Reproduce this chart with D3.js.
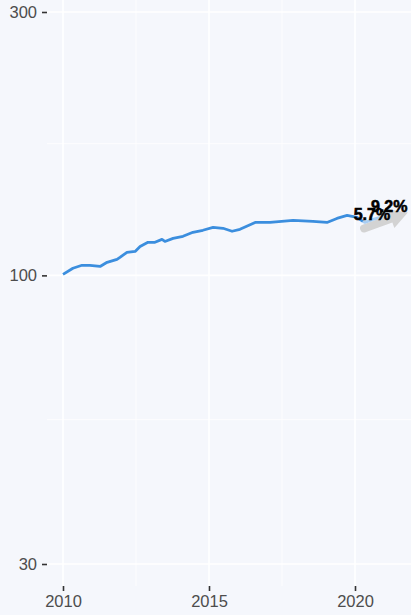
<!DOCTYPE html>
<html>
<head>
<meta charset="utf-8">
<script src="https://cdn.jsdelivr.net/npm/d3@7"></script>
<style>
  body { margin: 0; background: #f5f7fc; }
  svg { display: block; }
  text { font-family: "Liberation Sans", Arial, sans-serif; }
</style>
</head>
<body>
<div id="chart"></div>
<script>
// index values (log scale, 2010 = 100)
const years = [2010.0, 2010.34, 2010.65, 2010.92, 2011.27, 2011.51, 2011.85, 2011.95, 2012.19, 2012.47,
  2012.64, 2012.91, 2013.15, 2013.39, 2013.49, 2013.77, 2014.11, 2014.45, 2014.79, 2015.14,
  2015.48, 2015.79, 2016.06, 2016.58, 2017.09, 2017.88, 2018.56, 2019.04, 2019.38, 2019.73,
  2020.07, 2020.27];
const values = [100.4, 103.0, 104.3, 104.3, 103.8, 105.6, 106.9, 107.8, 110.1, 110.5,
  112.8, 114.8, 114.8, 116.2, 115.2, 116.7, 117.7, 119.7, 120.7, 122.2,
  121.7, 120.2, 121.2, 124.7, 124.7, 125.8, 125.3, 124.7, 126.8, 128.4,
  127.4, 125.3];

// latest months, lighter line
const recentYears = [2020.27, 2020.34, 2020.62, 2020.86];
const recentValues = [125.3, 124.7, 126.3, 127.4];

// projection arrow: start and end
const arrowYears = [2020.31, 2021.81];
const arrowValues = [121.6, 130.0];

// growth labels
const labelText = ["5.7%", "9.2%"];
const labelYears = [2020.58, 2021.17];
const labelValues = [129.0, 133.6];

const yTicks = [30, 100, 300];
const yMinor = [Math.sqrt(30 * 100), Math.sqrt(100 * 300)];
const xTicks = [2010, 2015, 2020];
const xMinor = [2012.5, 2017.5];

const width = 411, height = 615;
const panel = { left: 47, right: 411, top: 0, bottom: 586 };

const svg = d3.select('#chart')
    .append('svg')
    .attr('width', width)
    .attr('height', height);

const x = d3.scaleLinear().domain([2010, 2020]).range([63, 355]);
const y = d3.scaleLog().domain([30, 300]).range([564, 12]);

// panel
svg.append('rect')
    .attr('x', panel.left).attr('y', panel.top)
    .attr('width', panel.right - panel.left)
    .attr('height', panel.bottom - panel.top)
    .attr('fill', '#f5f7fc');

const grid = svg.append('g');
grid.selectAll('.vminor').data(xMinor).enter().append('line')
    .attr('x1', d => x(d)).attr('x2', d => x(d))
    .attr('y1', panel.top).attr('y2', panel.bottom)
    .attr('stroke', '#fff').attr('stroke-width', 0.8);
grid.selectAll('.hminor').data(yMinor).enter().append('line')
    .attr('x1', panel.left).attr('x2', panel.right)
    .attr('y1', d => y(d)).attr('y2', d => y(d))
    .attr('stroke', '#fff').attr('stroke-width', 0.8);
grid.selectAll('.vmajor').data(xTicks).enter().append('line')
    .attr('x1', d => x(d)).attr('x2', d => x(d))
    .attr('y1', panel.top).attr('y2', panel.bottom)
    .attr('stroke', '#fff').attr('stroke-width', 1.6);
grid.selectAll('.hmajor').data(yTicks).enter().append('line')
    .attr('x1', panel.left).attr('x2', panel.right)
    .attr('y1', d => y(d)).attr('y2', d => y(d))
    .attr('stroke', '#fff').attr('stroke-width', 1.6);

// axes
const yAxis = svg.append('g')
    .attr('transform', `translate(${panel.left},0)`)
    .call(d3.axisLeft(y).tickValues(yTicks).tickFormat(d3.format('d')).tickSize(5).tickPadding(5));
const xAxis = svg.append('g')
    .attr('transform', `translate(0,${panel.bottom})`)
    .call(d3.axisBottom(x).tickValues(xTicks).tickFormat(d3.format('d')).tickSize(5).tickPadding(4));
[yAxis, xAxis].forEach(a => {
    a.select('.domain').remove();
    a.selectAll('line').attr('stroke', '#333').attr('stroke-width', 1.6);
    a.selectAll('text').attr('fill', '#4d4d4d').attr('font-size', 16.5)
        .attr('font-family', '"Liberation Sans", Arial, sans-serif');
});

// projection arrow
const p0 = [x(arrowYears[0]), y(arrowValues[0])];
const p1 = [x(arrowYears[1]), y(arrowValues[1])];
const ang = Math.atan2(p1[1] - p0[1], p1[0] - p0[0]);
const headLen = 18, headW = 10;
const base = [p1[0] - headLen * Math.cos(ang), p1[1] - headLen * Math.sin(ang)];
svg.append('line')
    .attr('x1', p0[0]).attr('y1', p0[1])
    .attr('x2', base[0]).attr('y2', base[1])
    .attr('stroke', '#d3d3d3').attr('stroke-width', 8).attr('stroke-linecap', 'round');
svg.append('path')
    .attr('d', d3.line()([
        p1,
        [base[0] + headW * Math.sin(ang), base[1] - headW * Math.cos(ang)],
        [base[0] - headW * Math.sin(ang), base[1] + headW * Math.cos(ang)]
    ]) + 'Z')
    .attr('fill', '#d3d3d3');

const line = d3.line().x(d => x(d[0])).y(d => y(d[1]));

svg.append('path')
    .datum(recentYears.map((d, i) => [d, recentValues[i]]))
    .attr('d', line)
    .attr('fill', 'none')
    .attr('stroke', '#a9cdf2')
    .attr('stroke-width', 2.8)
    .attr('stroke-linejoin', 'round');

svg.append('path')
    .datum(years.map((d, i) => [d, values[i]]))
    .attr('d', line)
    .attr('fill', 'none')
    .attr('stroke', '#3b8ede')
    .attr('stroke-width', 2.8)
    .attr('stroke-linejoin', 'round');

svg.selectAll('.lab').data(labelText).enter().append('text')
    .attr('x', (d, i) => x(labelYears[i]))
    .attr('y', (d, i) => y(labelValues[i]))
    .attr('dy', '0.35em')
    .attr('text-anchor', 'middle')
    .attr('font-size', 16)
    .attr('font-weight', 'bold')
    .attr('fill', '#000')
    .attr('stroke', '#000')
    .attr('stroke-width', 0.6)
    .text(d => d);
</script>
</body>
</html>
